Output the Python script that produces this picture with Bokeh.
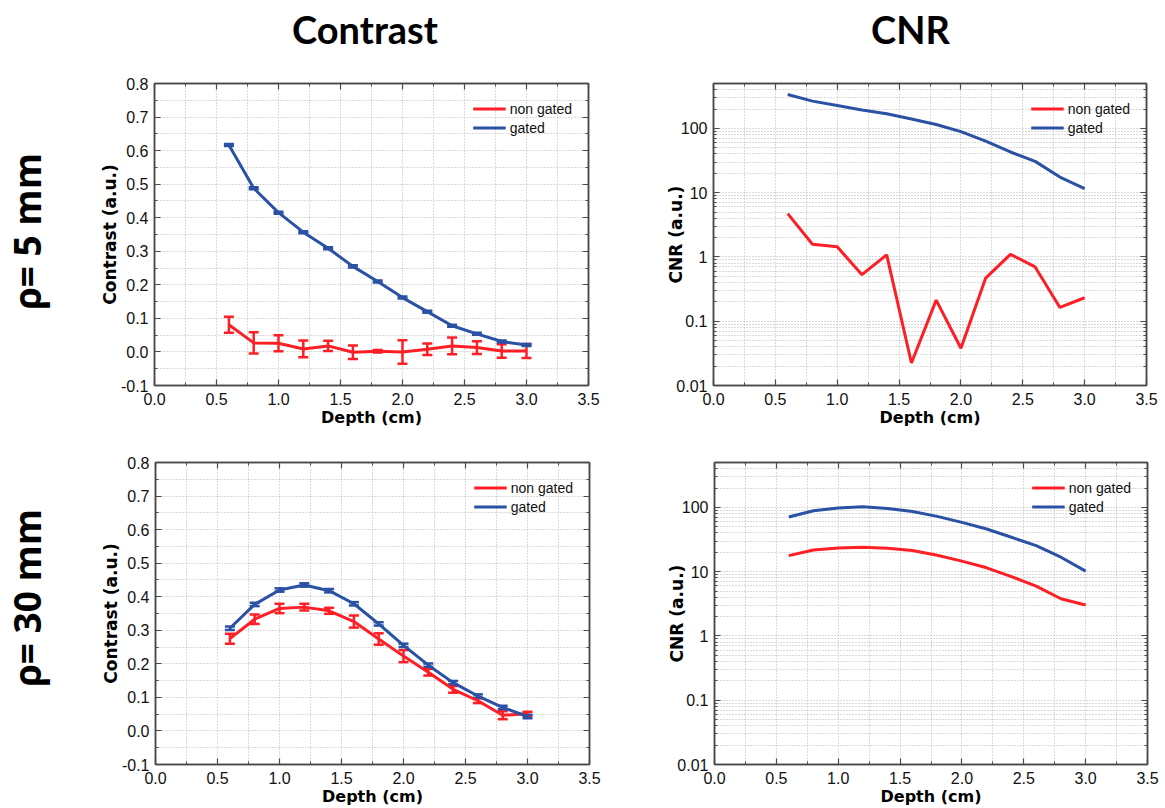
import math
from bokeh.plotting import figure
from bokeh.models import (LinearAxis, LogAxis, Range1d, FixedTicker, Whisker, ColumnDataSource,
                          Legend, LegendItem, Label, TeeHead, CustomJSTickFormatter,
                          PrintfTickFormatter)
from bokeh.layouts import column, row
from bokeh.embed import file_html
from bokeh.resources import INLINE

# ---------------- data ----------------
depth = [0.6, 0.8, 1.0, 1.2, 1.4, 1.6, 1.8, 2.0, 2.2, 2.4, 2.6, 2.8, 3.0]

# rho = 5 mm
contrast5_gated = [0.617, 0.488, 0.415, 0.357, 0.309, 0.255, 0.210, 0.162, 0.120, 0.078, 0.054, 0.031, 0.021]
contrast5_gated_err = [0.003] * 13
contrast5_nongated = [0.081, 0.027, 0.026, 0.009, 0.018, -0.001, 0.002, 0.000, 0.008, 0.018, 0.013, 0.003, 0.003]
contrast5_nongated_err = [0.024, 0.032, 0.024, 0.025, 0.015, 0.020, 0.004, 0.035, 0.017, 0.025, 0.019, 0.020, 0.021]
cnr5_gated = [337, 266, 227, 193, 169, 140, 115, 89, 63.5, 43, 30.7, 17.5, 11.6]
cnr5_nongated = [4.73, 1.58, 1.44, 0.53, 1.08, 0.0224, 0.213, 0.038, 0.469, 1.10, 0.70, 0.164, 0.232]

# rho = 30 mm
contrast30_gated = [0.306, 0.377, 0.420, 0.435, 0.418, 0.379, 0.319, 0.255, 0.196, 0.144, 0.104, 0.070, 0.043]
contrast30_gated_err = [0.005] * 13
contrast30_nongated = [0.275, 0.333, 0.365, 0.369, 0.358, 0.326, 0.274, 0.223, 0.175, 0.124, 0.090, 0.047, 0.051]
contrast30_nongated_err = [0.015, 0.014, 0.014, 0.010, 0.009, 0.018, 0.017, 0.018, 0.010, 0.010, 0.007, 0.012, 0.006]
cnr30_gated = [70.8, 88.7, 97.7, 102, 96.5, 86.7, 72.5, 58.5, 46.1, 34.3, 25.5, 16.8, 10.2]
cnr30_nongated = [17.8, 21.8, 23.4, 24.0, 23.1, 21.3, 18.0, 14.6, 11.5, 8.4, 5.96, 3.79, 3.03]

x_ticks = [0.0, 0.5, 1.0, 1.5, 2.0, 2.5, 3.0, 3.5]
contrast_ticks = [-0.1, 0.0, 0.1, 0.2, 0.3, 0.4, 0.5, 0.6, 0.7, 0.8]
cnr_ticks = [0.01, 0.1, 1, 10, 100]
cnr_tick_labels = ["0.01", "0.1", "1", "10", "100"]

col_titles = ["Contrast", "CNR"]
row_titles = ["\u03c1= 5 mm", "\u03c1= 30 mm"]
series_labels = ["non gated", "gated"]
x_label = "Depth (cm)"
contrast_label = "Contrast (a.u.)"
cnr_label = "CNR (a.u.)"

RED = "#fe1f26"
BLUE = "#2a51a3"
GRID = "#b4b4b4"
AXC = "#4a4a4a"
TICK_FONT = "Liberation Sans"
LABEL_FONT = "DejaVu Sans"

LEFT_W = 60      # width of the strip holding the row titles
HEAD_H = 50      # height of the strip holding the column titles
TOTAL_W = 1164
TOTAL_H = 808


def minor_between(ticks, n):
    out = []
    for a, b in zip(ticks[:-1], ticks[1:]):
        for k in range(1, n):
            out.append(a + (b - a) * k / n)
    return out


x_minor = minor_between(x_ticks, 2)
contrast_minor = minor_between(contrast_ticks, 2)
cnr_minor = [m * t for t in cnr_ticks for m in range(2, 10)]


def style_axis(ax):
    ax.axis_line_color = AXC
    ax.axis_line_width = 1.5
    ax.major_tick_line_color = AXC
    ax.minor_tick_line_color = AXC
    ax.major_tick_line_width = 1.2
    ax.minor_tick_line_width = 1.0
    ax.major_tick_in = 6
    ax.major_tick_out = 0
    ax.minor_tick_in = 3
    ax.minor_tick_out = 0
    ax.major_label_text_font = TICK_FONT
    ax.major_label_text_font_size = "16px"
    ax.major_label_text_color = "#111111"
    ax.axis_label_text_font = LABEL_FONT
    ax.axis_label_text_font_style = "bold"
    ax.axis_label_text_font_size = "16px"
    ax.axis_label_text_color = "#000000"


def make_panel(kind, x, y_ng, y_g, err_ng, err_g, ylabel, bl, br, bt, bb, fw, fh, ylabel_standoff):
    if kind == "lin":
        p = figure(frame_width=fw, frame_height=fh, x_range=Range1d(0.0, 3.5),
                   y_range=Range1d(-0.1, 0.8), output_backend="svg", toolbar_location=None,
                   min_border_left=bl, min_border_right=br, min_border_top=bt, min_border_bottom=bb)
        yt = FixedTicker(ticks=contrast_ticks, minor_ticks=contrast_minor)
    else:
        p = figure(frame_width=fw, frame_height=fh, x_range=Range1d(0.0, 3.5),
                   y_range=Range1d(0.01, 500), y_axis_type="log", output_backend="svg",
                   toolbar_location=None,
                   min_border_left=bl, min_border_right=br, min_border_top=bt, min_border_bottom=bb)
        yt = FixedTicker(ticks=cnr_ticks, minor_ticks=cnr_minor)
    xt = FixedTicker(ticks=x_ticks, minor_ticks=x_minor)
    p.background_fill_color = "white"
    p.border_fill_color = "white"
    p.outline_line_color = AXC
    p.outline_line_width = 1.5

    p.xaxis.ticker = xt
    p.yaxis.ticker = yt
    p.xaxis.formatter = PrintfTickFormatter(format="%.1f")
    p.xaxis.axis_label = x_label
    p.yaxis.axis_label = ylabel
    for ax in p.xaxis + p.yaxis:
        style_axis(ax)
    p.yaxis.axis_label_text_font_size = "17px"
    p.xaxis.major_label_standoff = 7
    p.xaxis.axis_label_standoff = 0
    p.yaxis.major_label_standoff = 6
    p.yaxis.axis_label_standoff = ylabel_standoff
    if kind == "log":
        p.yaxis.major_label_overrides = {t: s for t, s in zip(cnr_ticks, cnr_tick_labels)}
    else:
        p.yaxis.formatter = PrintfTickFormatter(format="%.1f")

    blank = CustomJSTickFormatter(code="return ''")
    top_ax = LinearAxis(ticker=FixedTicker(ticks=x_ticks, minor_ticks=x_minor), formatter=blank)
    style_axis(top_ax)
    top_ax.major_label_standoff = 0
    p.add_layout(top_ax, "above")
    if kind == "lin":
        right_ax = LinearAxis(ticker=FixedTicker(ticks=contrast_ticks, minor_ticks=contrast_minor), formatter=blank)
    else:
        right_ax = LogAxis(ticker=FixedTicker(ticks=cnr_ticks, minor_ticks=cnr_minor), formatter=blank)
    style_axis(right_ax)
    right_ax.major_label_standoff = 0
    p.add_layout(right_ax, "right")

    for g in (p.xgrid, p.ygrid):
        g.grid_line_color = GRID
        g.grid_line_dash = "1 2"
        g.grid_line_width = 1
        g.minor_grid_line_color = GRID
        g.minor_grid_line_dash = "1 2"
        g.minor_grid_line_width = 1

    r_ng = p.line(x, y_ng, line_color=RED, line_width=3)
    r_g = p.line(x, y_g, line_color=BLUE, line_width=3)

    if err_ng is not None:
        for yy, ee, c in ((y_ng, err_ng, RED), (y_g, err_g, BLUE)):
            src = ColumnDataSource(data=dict(x=x, lo=[a - b for a, b in zip(yy, ee)],
                                             hi=[a + b for a, b in zip(yy, ee)]))
            w = Whisker(source=src, base="x", lower="lo", upper="hi", line_color=c, line_width=2.5,
                        upper_head=TeeHead(size=10, line_color=c, line_width=2.5),
                        lower_head=TeeHead(size=10, line_color=c, line_width=2.5))
            p.add_layout(w)

    legend = Legend(items=[LegendItem(label=series_labels[0], renderers=[r_ng]),
                           LegendItem(label=series_labels[1], renderers=[r_g])],
                    location="top_right")
    legend.border_line_alpha = 0
    legend.background_fill_alpha = 0
    legend.margin = 10
    legend.padding = 6
    legend.spacing = 0
    legend.glyph_width = 33
    legend.glyph_height = 19
    legend.label_height = 19
    legend.label_standoff = 4
    legend.label_text_font = TICK_FONT
    legend.label_text_font_size = "14px"
    legend.label_text_color = "#111111"
    p.add_layout(legend)
    return p


def blank_fig(w, h):
    f = figure(width=w, height=h, x_range=Range1d(0, w), y_range=Range1d(0, h),
               output_backend="svg", toolbar_location=None, min_border=0,
               x_axis_location=None, y_axis_location=None)
    f.outline_line_color = None
    f.xgrid.visible = False
    f.ygrid.visible = False
    f.background_fill_color = "white"
    f.border_fill_color = "white"
    return f


p1 = make_panel("lin", depth, contrast5_nongated, contrast5_gated, contrast5_nongated_err,
                contrast5_gated_err, contrast_label, 154 - LEFT_W, 25, 83 - HEAD_H, 50, 434, 302, -2)
p2 = make_panel("log", depth, cnr5_nongated, cnr5_gated, None, None, cnr_label,
                100, 18, 83 - HEAD_H, 50, 433, 302, -13)
p3 = make_panel("lin", depth, contrast30_nongated, contrast30_gated, contrast30_nongated_err,
                contrast30_gated_err, contrast_label, 155 - LEFT_W, 25, 26, 45, 434, 302, -2)
p4 = make_panel("log", depth, cnr30_nongated, cnr30_gated, None, None, cnr_label,
                100, 18, 27, 44, 433, 302, -13)

# header strip with column titles
head = blank_fig(TOTAL_W - LEFT_W, HEAD_H)
for t, xc in zip(col_titles, (364.5 - LEFT_W, 910 - LEFT_W)):
    head.add_layout(Label(x=xc, y=HEAD_H - 42 + 14, x_units="screen", y_units="screen", text=t,
                          text_font="Lato", text_font_style="bold", text_font_size="38px",
                          text_align="center", text_baseline="alphabetic", text_color="#000000"))

# left strip with row titles
side = blank_fig(LEFT_W, TOTAL_H)
for t, yc in zip(row_titles, (231, 597.5)):
    side.add_layout(Label(x=40 - 14, y=TOTAL_H - yc, x_units="screen", y_units="screen", text=t,
                          angle=math.pi / 2,
                          text_font="Open Sans", text_font_style="bold", text_font_size="37px",
                          text_align="center", text_baseline="alphabetic", text_color="#000000"))

layout = row(side, column(head, row(p1, p2), row(p3, p4)))
open("out.html", "w").write(file_html(layout, INLINE))
